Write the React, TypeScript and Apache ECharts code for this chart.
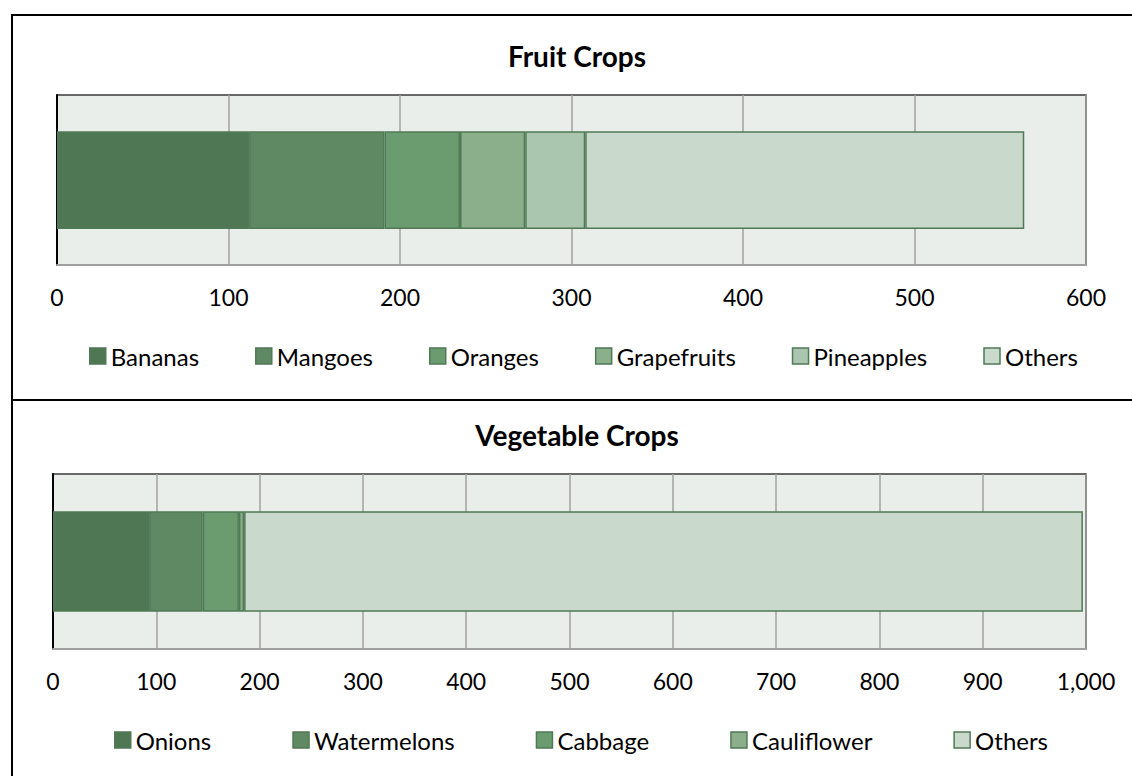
import React, { useEffect, useRef } from "react";
import * as echarts from "echarts";

const fruitTitle = "Fruit Crops";
const vegTitle = "Vegetable Crops";
const fruitNames = ["Bananas", "Mangoes", "Oranges", "Grapefruits", "Pineapples", "Others"];
const fruitValues = [112, 79, 44, 38, 35, 256];
const fruitColors = ["#507754", "#5F8963", "#6B9C70", "#8AAF8A", "#ABC6AE", "#C9D9CB"];
const fruitMax = 600;
const vegNames = ["Onions", "Watermelons", "Cabbage", "Cauliflower", "Others"];
const vegValues = [93, 52, 35, 5, 812];
const vegColors = ["#507754", "#5F8963", "#6B9C70", "#8AAF8A", "#C9D9CB"];
const vegMax = 1000;
const tickStep = 100;

const FONT = "Lato, 'Open Sans', sans-serif";

export default function App() {
  const ref = useRef<HTMLDivElement>(null);
  useEffect(() => {
    document.body.style.margin = "0";
    const chart = echarts.init(ref.current!, null, { renderer: "svg" });
    const grid = (left: number, top: number, width: number, height: number) => ({
      left, top, width, height, show: true,
      backgroundColor: "#E9EEEA", borderColor: "#3A3A3A", borderWidth: 1.5,
    });
    const xAxis = (gridIndex: number, max: number) => ({
      type: "value", gridIndex, min: 0, max, interval: tickStep,
      axisLine: { show: true, lineStyle: { color: "#A0A0A0", width: 2 } },
      axisTick: { show: false },
      splitLine: { show: true, lineStyle: { color: "#A0A0A0", width: 1.5 } },
      axisLabel: {
        color: "#000", fontFamily: FONT, fontSize: 23, margin: 20,
        formatter: (v: number) => v.toLocaleString("en-US"),
      },
    });
    const yAxis = (gridIndex: number, name: string) => ({
      type: "category", gridIndex, data: [name],
      axisLine: { show: true, lineStyle: { color: "#000", width: 2 } },
      axisTick: { show: false }, axisLabel: { show: false },
    });
    const mk = (names: string[], values: number[], colors: string[], idx: number, stack: string) =>
      names.map((n, i) => ({
        name: n, type: "bar", stack, xAxisIndex: idx, yAxisIndex: idx,
        barWidth: "57.5%", data: [values[i]],
        itemStyle: { color: colors[i], borderColor: "#4F7A55", borderWidth: 1.5 },
      }));
    const legend = (names: string[], left: number, top: number, gap: number) => ({
      data: names, left, top, itemGap: gap, itemWidth: 16, itemHeight: 16,
      icon: "rect", padding: 0,
      itemStyle: { borderColor: "#4F7A55", borderWidth: 1.5 },
      textStyle: { color: "#000", fontFamily: FONT, fontSize: 24 },
    });
    chart.setOption({
      animation: false,
      title: [
        { text: fruitTitle, left: 577, top: 42, textAlign: "center", padding: 0,
          textStyle: { fontFamily: FONT, fontWeight: "bold", fontSize: 28, color: "#000" } },
        { text: vegTitle, left: 577, top: 421, textAlign: "center", padding: 0,
          textStyle: { fontFamily: FONT, fontWeight: "bold", fontSize: 28, color: "#000" } },
      ],
      legend: [
        legend(fruitNames, 89, 344, 56),
        legend(vegNames, 114, 728, 81),
      ],
      grid: [grid(57, 95, 1029, 170), grid(53, 474, 1033, 175)],
      xAxis: [xAxis(0, fruitMax), xAxis(1, vegMax)],
      yAxis: [yAxis(0, "Fruit"), yAxis(1, "Vegetable")],
      series: [
        ...mk(fruitNames, fruitValues, fruitColors, 0, "fruit"),
        ...mk(vegNames, vegValues, vegColors, 1, "veg"),
      ],
      graphic: [
        { type: "rect", shape: { x: 12, y: 15, width: 1300, height: 1000 },
          style: { fill: "none", stroke: "#000", lineWidth: 2 }, silent: true },
        { type: "line", shape: { x1: 12, y1: 400, x2: 1300, y2: 400 },
          style: { stroke: "#000", lineWidth: 2 }, silent: true },
      ],
    });
    return () => chart.dispose();
  }, []);
  return <div ref={ref} style={{ width: 1132, height: 776 }} />;
}
